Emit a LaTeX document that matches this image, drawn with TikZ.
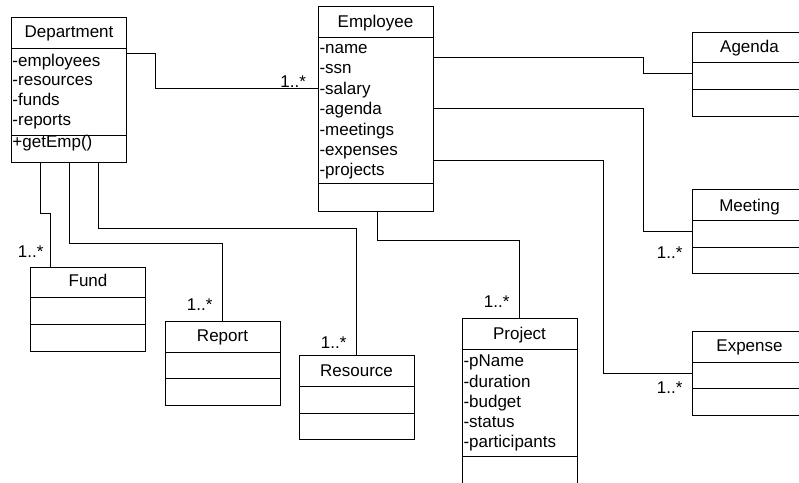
\documentclass[tikz,border=0pt]{standalone}
\usepackage{fontspec}
\setmainfont{Liberation Sans}
\begin{document}
\begin{tikzpicture}[x=1pt,y=-1pt,
  txt/.style={inner sep=0pt, outer sep=0pt, font=\fontsize{17}{20}\selectfont},
  classbox/.style={draw=black, line width=0.9pt, minimum width=115pt,
    anchor=north west, inner sep=0pt, outer sep=0pt},
  rule/.style={draw=black, line width=0.9pt},
  title/.style={txt, anchor=base},
  attr/.style={txt, anchor=base west},
  mult/.style={txt, anchor=base east},
  assoc/.style={draw=black, line width=0.9pt}]

\fill[white] (0,0) rectangle (799,482);
\useasboundingbox (0,0) rectangle (799,482);
\clip (0,0) rectangle (799,482);

% ---- class boxes ----
\node[classbox, minimum height=145pt] (dept)     at (11,17)   {};
\node[classbox, minimum height=205pt] (emp)      at (318,6)   {};
\node[classbox, minimum height=84pt]  (agenda)   at (692,32)  {};
\node[classbox, minimum height=84pt]  (meeting)  at (692,189) {};
\node[classbox, minimum height=84pt]  (expense)  at (692,331) {};
\node[classbox, minimum height=190pt] (project)  at (462,318) {};
\node[classbox, minimum height=84pt]  (fund)     at (30,267)  {};
\node[classbox, minimum height=84pt]  (report)   at (165,321) {};
\node[classbox, minimum height=84pt]  (resource) at (299,355) {};

% ---- compartment rules ----
\draw[rule] ([yshift=-31.5pt]dept.north west) -- ([yshift=-31.5pt]dept.north east);
\draw[rule] ([yshift=-118.5pt]dept.north west) -- ([yshift=-118.5pt]dept.north east);
\draw[rule] ([yshift=-31pt]emp.north west) -- ([yshift=-31pt]emp.north east);
\draw[rule] ([yshift=-177pt]emp.north west) -- ([yshift=-177pt]emp.north east);
\draw[rule] ([yshift=-31pt]project.north west) -- ([yshift=-31pt]project.north east);
\draw[rule] ([yshift=-138pt]project.north west) -- ([yshift=-138pt]project.north east);
\foreach \b/\t/\m in {agenda/30/57, meeting/31/58, expense/31/57,
                      fund/30/57, report/31/57, resource/31/58} {
  \draw[rule] ([yshift=-\t pt]\b.north west) -- ([yshift=-\t pt]\b.north east);
  \draw[rule] ([yshift=-\m pt]\b.north west) -- ([yshift=-\m pt]\b.north east);
}

% ---- class names ----
\node[title] (dept-t)     at (69,37.5)   {Department};
\node[title] (emp-t)      at (375.5,27)  {Employee};
\node[title] (agenda-t)   at (749.5,52.7) {Agenda};
\node[title] (meeting-t)  at (749.5,211) {Meeting};
\node[title] (expense-t)  at (749.5,351.7) {Expense};
\node[title] (project-t)  at (519.5,339.3) {Project};
\node[title] (fund-t)     at (88,286.7)  {Fund};
\node[title] (report-t)   at (222.5,341) {Report};
\node[title] (resource-t) at (356.5,376) {Resource};

% ---- attributes and operations ----
\foreach \t [count=\i from 0] in {-employees,-resources,-funds,-reports}
  \node[attr] (dept-a\i) at (12.5,{66+19.8*\i}) {\t};
\node[attr] (dept-op) at (12.5,147.3) {+getEmp()};
\foreach \t [count=\i from 0] in {-name,-ssn,-salary,-agenda,-meetings,-expenses,-projects}
  \node[attr] (emp-a\i) at (319.5,{53.4+20.4*\i}) {\t};
\foreach \t [count=\i from 0] in {-pName,-duration,-budget,-status,-participants}
  \node[attr] (project-a\i) at (463.5,{366.7+20.3*\i}) {\t};

% ---- associations ----
\draw[assoc] ([yshift=-36pt]dept.north east) -- ++(29,0) |- ([yshift=-82.5pt]emp.north west);
\draw[assoc] ([yshift=-51pt]emp.north east) -- ++(210,0) |- ([yshift=-41pt]agenda.north west);
\draw[assoc] ([yshift=-102pt]emp.north east) -- ++(210,0) |- ([yshift=-42pt]meeting.north west);
\draw[assoc] ([yshift=-154pt]emp.north east) -- ++(170,0) |- ([yshift=-42pt]expense.north west);
\draw[assoc] ([xshift=59pt]emp.south west) -- ++(0,29) -| (project.north);
\draw[assoc] ([xshift=29pt]dept.south west) -- ++(0,51) -| ([xshift=20pt]fund.north west);
\draw[assoc] ([xshift=58pt]dept.south west) -- ++(0,81) -| (report.north);
\draw[assoc] ([xshift=87pt]dept.south west) -- ++(0,66) -| (resource.north);

% ---- multiplicities ----
\node[mult] (m-emp)      at (306,87)   {1..*};
\node[mult] (m-fund)     at (43.5,257) {1..*};
\node[mult] (m-report)   at (212.5,310) {1..*};
\node[mult] (m-resource) at (346.5,348) {1..*};
\node[mult] (m-project)  at (509.5,307) {1..*};
\node[mult] (m-meeting)  at (682.5,258) {1..*};
\node[mult] (m-expense)  at (682.5,393) {1..*};
\end{tikzpicture}
\end{document}
